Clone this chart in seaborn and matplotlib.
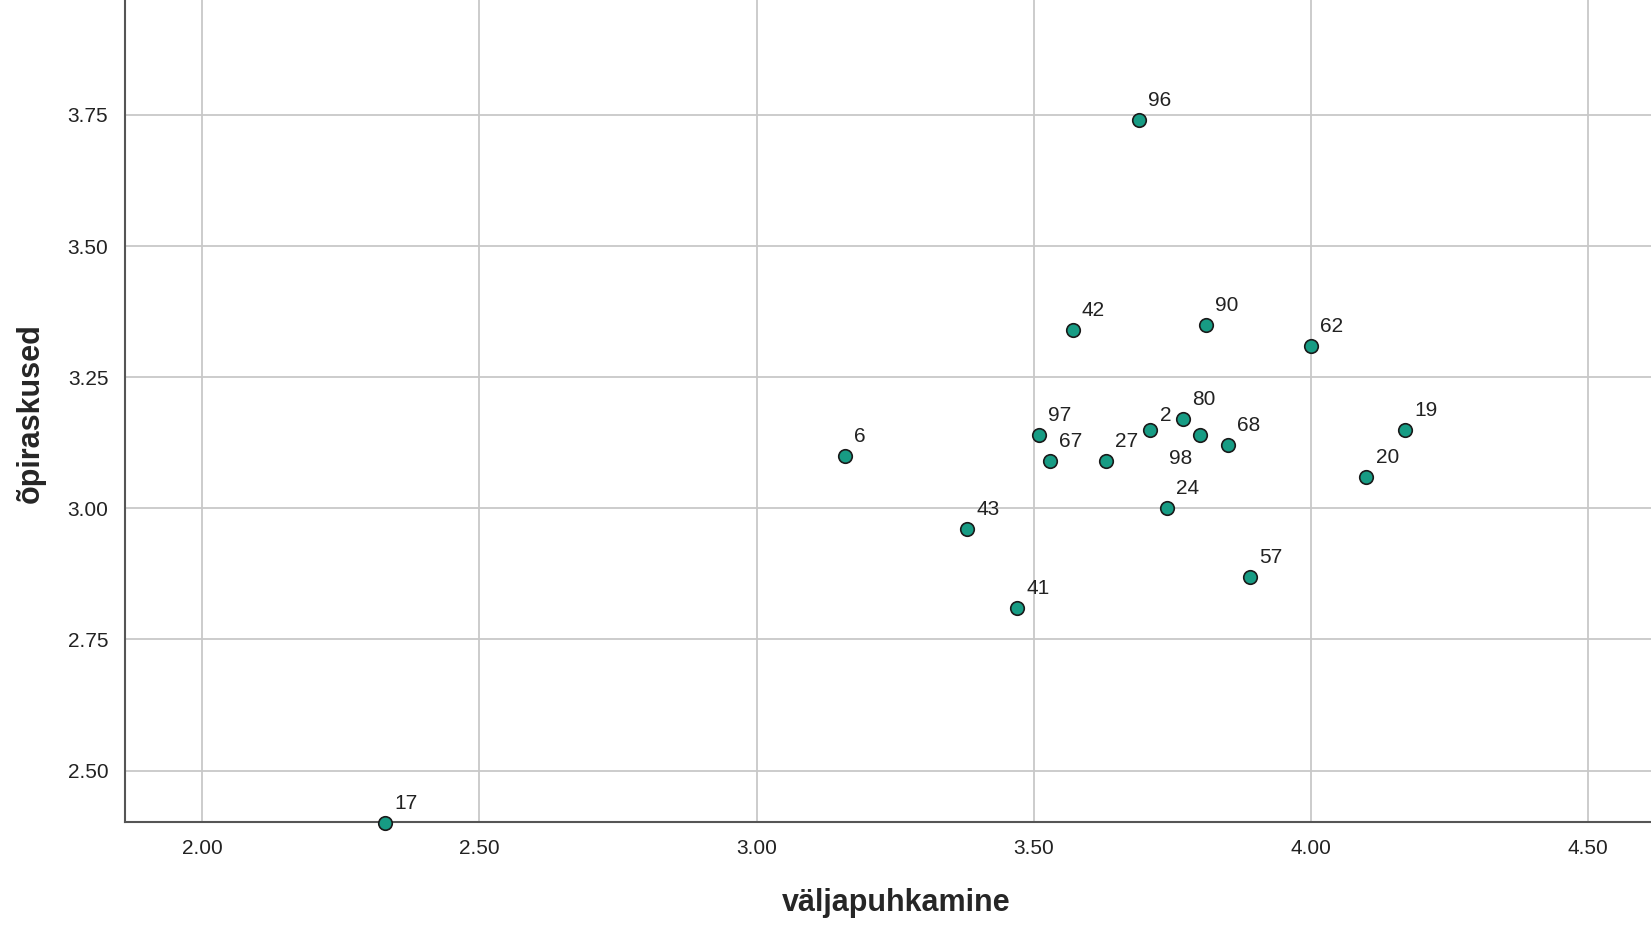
import matplotlib
matplotlib.use("Agg")
import matplotlib.pyplot as plt
import pandas as pd
import seaborn as sns

# andmed: punkti number, väljapuhkamine (x), õpiraskused (y)
ids = ["96", "42", "90", "62", "6", "97", "67", "27", "2", "80", "98", "68",
       "19", "20", "24", "43", "57", "41", "17"]
x_vals = [3.69, 3.57, 3.81, 4.00, 3.16, 3.51, 3.53, 3.63, 3.71, 3.77, 3.80, 3.85,
          4.17, 4.10, 3.74, 3.38, 3.89, 3.47, 2.33]
y_vals = [3.74, 3.34, 3.35, 3.31, 3.10, 3.14, 3.09, 3.09, 3.15, 3.17, 3.14, 3.12,
          3.15, 3.06, 3.00, 2.96, 2.87, 2.81, 2.40]

x_ticks = [2.00, 2.50, 3.00, 3.50, 4.00, 4.50]
y_ticks = [2.50, 2.75, 3.00, 3.25, 3.50, 3.75]

df = pd.DataFrame({"id": ids, "väljapuhkamine": x_vals, "õpiraskused": y_vals})

sns.set_style("white")
plt.rcParams["font.family"] = ["Liberation Sans", "DejaVu Sans"]

fig = plt.figure(figsize=(16.51, 9.26), dpi=100)
# teljed ulatuvad üle parema ja ülemise serva (pilt on kärbitud)
ax = fig.add_axes([125 / 1651, 104 / 926, (1667 - 125) / 1651, 822 / 926])

ax.set_xlim(1.861, 4.642)
ax.set_ylim(2.402, 3.969)
ax.set_xticks(x_ticks)
ax.set_yticks(y_ticks)
ax.set_xticklabels([f"{t:.2f}" for t in x_ticks], fontsize=15, color="#222222")
ax.set_yticklabels([f"{t:.2f}" for t in y_ticks], fontsize=15, color="#222222")
ax.tick_params(length=0, pad=12)

ax.grid(True, color="#c8c8c8", linewidth=1.3)
ax.set_axisbelow(True)
for side in ["top", "right"]:
    ax.spines[side].set_visible(False)
for side in ["left", "bottom"]:
    ax.spines[side].set_color("#555555")
    ax.spines[side].set_linewidth(1.5)

sns.scatterplot(data=df, x="väljapuhkamine", y="õpiraskused", ax=ax,
                s=95, color="#179c84", edgecolor="#1a1a1a", linewidth=1.2,
                zorder=3, clip_on=False)

# sildid punktide juures
offsets = {"2": (7, 6), "98": (-6, -21)}
for pid, xv, yv in zip(ids, x_vals, y_vals):
    dx, dy = offsets.get(pid, (6.5, 10))
    ha = "right" if dx < 0 else "left"
    ax.annotate(pid, (xv, yv), xytext=(dx, dy), textcoords="offset points",
                ha=ha, va="baseline", fontsize=15, color="#222222",
                annotation_clip=False)

ax.set_xlabel("väljapuhkamine", fontsize=22, fontweight="bold")
ax.set_ylabel("õpiraskused", fontsize=22, fontweight="bold")
ax.xaxis.set_label_coords((896 - 125) / (1667 - 125), -(888 - 822) / 822)
ax.yaxis.set_label_coords(-(125 - 46) / (1667 - 125), (822 - 413) / 822)

fig.savefig("out.png", dpi=100)
